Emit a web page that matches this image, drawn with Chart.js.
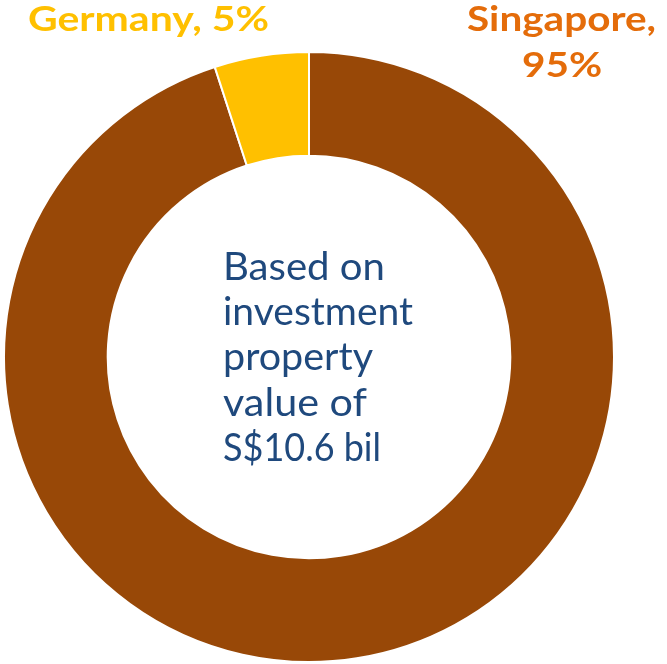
<!DOCTYPE html>
<html>
<head>
<meta charset="utf-8">
<script src="https://cdn.jsdelivr.net/npm/chart.js@4"></script>
<style>
  html, body { margin: 0; padding: 0; background: #ffffff; }
  #wrap { width: 667px; height: 664px; }
</style>
</head>
<body>
<div id="wrap"><canvas id="chart" width="667" height="664"></canvas></div>
<script>
// data
var categories = ['Singapore', 'Germany'];
var shares = [95, 5];
var sliceColors = ['#984807', '#FFC000'];
var labelColors = ['#E46C0A', '#FFC000'];
var centerLines = ['Based on', 'investment', 'property', 'value of', 'S$10.6 bil'];

// how wide each centre line runs in the original (its font is wider than ours)
var centerWidths = [162, 190, 150, 144, 158];

// draw text stretched sideways by scaleX
function drawWide(ctx, text, x, y, scaleX) {
    ctx.save();
    ctx.translate(x, y);
    ctx.scale(scaleX, 1);
    ctx.fillText(text, 0, 0);
    ctx.restore();
}

var textPlugin = {
    id: 'textPlugin',
    afterDraw: function(chart) {
        var ctx = chart.ctx;
        ctx.save();
        ctx.textBaseline = 'alphabetic';
        ctx.textAlign = 'left';
        ctx.font = 'bold 35px Lato, "DejaVu Sans", sans-serif';

        // Germany label, top left
        var gText = categories[1] + ', ' + shares[1] + '%';
        ctx.fillStyle = labelColors[1];
        var sx = 241 / ctx.measureText(gText).width;
        drawWide(ctx, gText, 28, 31, sx);

        // Singapore label, top right, two lines
        var sText1 = categories[0] + ',';
        var sText2 = shares[0] + '%';
        ctx.fillStyle = labelColors[0];
        sx = 189 / ctx.measureText(sText1).width;
        drawWide(ctx, sText1, 467, 31, sx);
        var w2 = ctx.measureText(sText2).width * sx;
        drawWide(ctx, sText2, 562 - w2 / 2, 77, sx);

        // center note
        ctx.font = '39px Lato, "DejaVu Sans", sans-serif';
        ctx.fillStyle = '#1F497D';
        for (var i = 0; i < centerLines.length; i++) {
            sx = centerWidths[i] / ctx.measureText(centerLines[i]).width;
            drawWide(ctx, centerLines[i], 223, 280 + i * 45.2, sx);
        }
        ctx.restore();
    }
};

var ctx = document.getElementById('chart').getContext('2d');
var donut = new Chart(ctx, {
    type: 'doughnut',
    data: {
        labels: categories,
        datasets: [{
            data: shares,
            backgroundColor: sliceColors,
            borderColor: '#ffffff',
            borderWidth: 2
        }]
    },
    options: {
        responsive: false,
        animation: false,
        cutout: '66%',
        layout: { padding: { left: 3, right: 52, top: 51, bottom: 1 } },
        plugins: {
            legend: { display: false },
            tooltip: { enabled: false },
            title: { display: false }
        }
    },
    plugins: [textPlugin]
});
</script>
</body>
</html>
